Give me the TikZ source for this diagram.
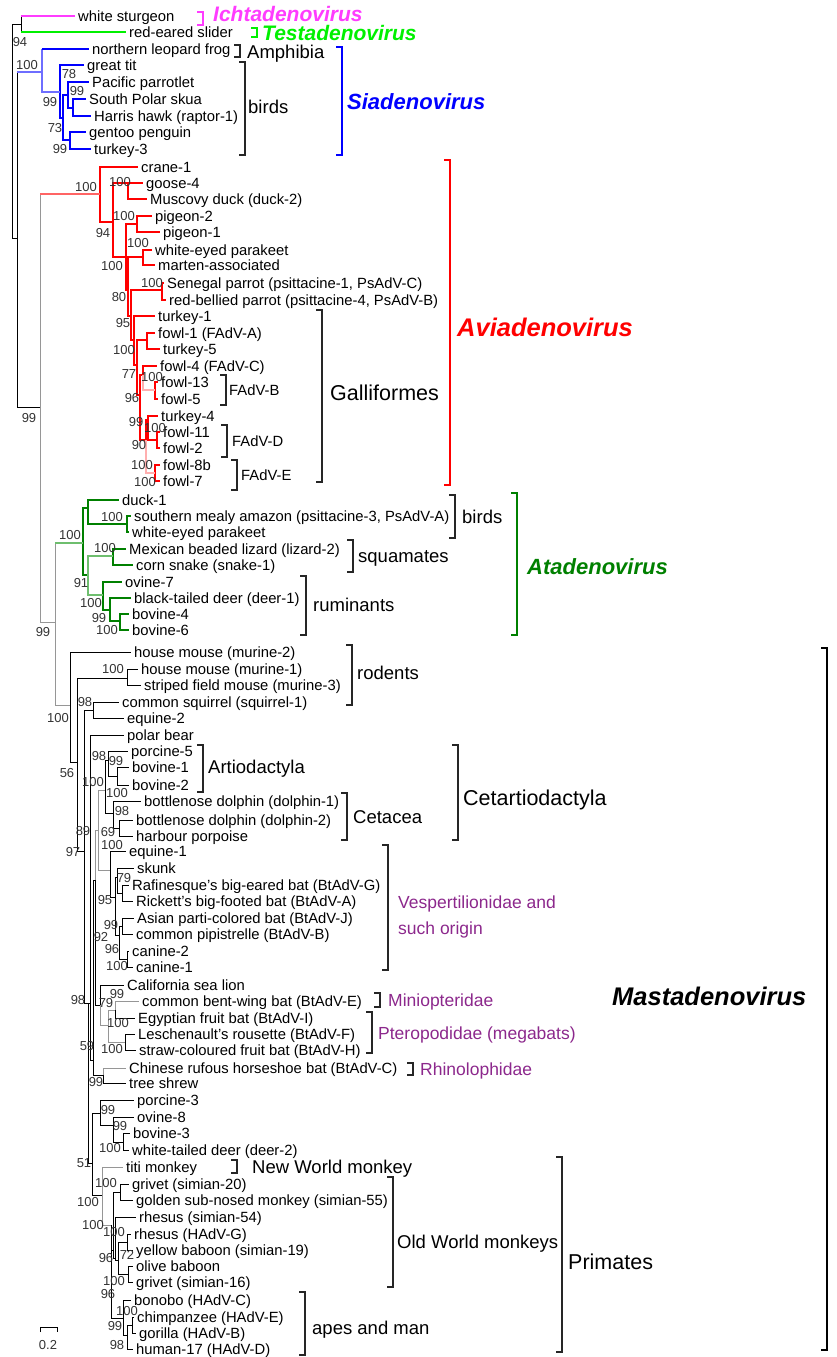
\documentclass[tikz,border=0pt]{standalone}
\usepackage{fontspec}
\setmainfont{Liberation Sans}
\definecolor{ichtacol}{RGB}{255,60,255}
\definecolor{testacol}{RGB}{0,240,0}
\definecolor{siacol}{RGB}{0,0,255}
\definecolor{sialight}{RGB}{110,110,255}
\definecolor{aviacol}{RGB}{255,0,0}
\definecolor{avialight}{RGB}{255,100,100}
\definecolor{aviapale}{RGB}{255,175,175}
\definecolor{atacol}{RGB}{0,128,0}
\definecolor{atalight}{RGB}{110,190,110}
\definecolor{famcol}{RGB}{140,40,140}
\definecolor{treegrey}{RGB}{150,150,150}
\newcommand{\leaffont}{\fontsize{14.8}{16}\selectfont}
\newcommand{\bsfont}{\fontsize{13}{14}\selectfont}
\newcommand{\grpfont}{\fontsize{18.5}{20}\selectfont}
\newcommand{\bigfont}{\fontsize{21.5}{24}\selectfont}
\newcommand{\genusfont}{\fontsize{22}{24}\selectfont\bfseries\itshape}
\newcommand{\famfont}{\fontsize{17.5}{26}\selectfont}
% bracket of a clade: x, top, bottom
\newcommand{\clade}[4][]{\draw[bracket,#1] (#2,#3) ++(-6,0) -- ++(6,0) -- (#2,#4) -- ++(-6,0);}
\tikzset{
  br/.style={line width=1pt, black},
  gbr/.style={line width=1pt, treegrey},
  ichta/.style={line width=1.4pt, ichtacol},
  testa/.style={line width=1.4pt, testacol},
  sia/.style={line width=2.5pt, siacol},
  siathin/.style={line width=1.6pt, siacol},
  sialt/.style={line width=1.4pt, sialight},
  avia/.style={line width=2.5pt, aviacol},
  avialt/.style={line width=1.4pt, avialight},
  aviapl/.style={line width=1.6pt, aviapale},
  ata/.style={line width=2.3pt, atacol},
  atalt/.style={line width=1.4pt, atalight},
  leaf/.style={anchor=west, inner xsep=3pt, inner ysep=0pt, text height=10.6pt, text depth=0pt, font=\leaffont},
  bs/.style={inner sep=0pt, font=\bsfont, text=black!80},
  grp/.style={anchor=west, inner sep=0pt, text height=13.3pt, text depth=0pt, font=\grpfont},
  big/.style={anchor=west, inner sep=0pt, text height=15.5pt, text depth=0pt, font=\bigfont},
  genus/.style={anchor=west, inner sep=0pt, text height=15.8pt, text depth=0pt, font=\genusfont},
  smallgenus/.style={genus, text height=15.1pt, font=\fontsize{21}{23}\selectfont\bfseries\itshape},
  biggenus/.style={genus, text height=18pt, font=\fontsize{25.5}{28}\selectfont\bfseries\itshape},
  fam/.style={anchor=west, inner sep=0pt, font=\famfont, text=famcol},
  famline/.style={fam, text height=12.6pt, text depth=0pt},
  bracket/.style={line width=1.4pt, black!85},
}
\begin{document}
\begin{tikzpicture}[x=1pt, y=-1pt]
\useasboundingbox (0,0) rectangle (837,1357);

% leaves
\foreach \nm/\x/\y/\txt in {
  ws/75/16/{white sturgeon}, res/126/32/{red-eared slider},
  frog/89/49/{northern leopard frog}, gtit/84/65/{great tit},
  parrotlet/89/82/{Pacific parrotlet}, skua/86/99/{South Polar skua},
  hawk/91/116/{Harris hawk (raptor-1)}, penguin/86/132/{gentoo penguin},
  turkeyiii/91/149/{turkey-3},
  crane/138/167/{crane-1}, goose/143/183/{goose-4},
  duckii/147/199/{Muscovy duck (duck-2)}, pigeonii/152/216/{pigeon-2},
  pigeoni/160/232/{pigeon-1}, wepa/152/250/{white-eyed parakeet},
  marten/155/265/{marten-associated},
  senegal/164/283/{Senegal parrot (psittacine-1, PsAdV-C)},
  redbellied/166/300/{red-bellied parrot (psittacine-4, PsAdV-B)},
  turkeyi/155/316/{turkey-1}, fowli/155/333/{fowl-1 (FAdV-A)},
  turkeyv/160/349/{turkey-5}, fowliv/157/366/{fowl-4 (FAdV-C)},
  fowlxiii/158/382/{fowl-13}, fowlv/158/399/{fowl-5},
  turkeyiv/158/416/{turkey-4}, fowlxi/160/432/{fowl-11},
  fowlii/160/448/{fowl-2}, fowlviiib/160/465/{fowl-8b},
  fowlvii/160/481/{fowl-7},
  ducki/119/500/{duck-1},
  amazon/131/516/{southern mealy amazon (psittacine-3, PsAdV-A)},
  wepb/129/532/{white-eyed parakeet},
  lizard/126/549/{Mexican beaded lizard (lizard-2)},
  snake/133/565/{corn snake (snake-1)}, ovinevii/122/582/{ovine-7},
  deeri/131/598/{black-tailed deer (deer-1)},
  bovineiv/129/614/{bovine-4}, bovinevi/129/630/{bovine-6},
  murineii/131/652/{house mouse (murine-2)},
  murinei/138/669/{house mouse (murine-1)},
  murineiii/141/685/{striped field mouse (murine-3)},
  squirrel/119/702/{common squirrel (squirrel-1)},
  equineii/124/718/{equine-2}, polarbear/124/735/{polar bear},
  porcinev/128/751/{porcine-5}, bovinei/129/767/{bovine-1},
  bovineii/129/785/{bovine-2},
  dolphini/141/801/{bottlenose dolphin (dolphin-1)},
  dolphinii/133/820/{bottlenose dolphin (dolphin-2)},
  porpoise/133/836/{harbour porpoise}, equinei/126/851/{equine-1},
  skunk/134/868/{skunk},
  rafinesque/129/885/{Rafinesque's big-eared bat (BtAdV-G)},
  rickett/133/901/{Rickett's big-footed bat (BtAdV-A)},
  asian/134/918/{Asian parti-colored bat (BtAdV-J)},
  pipistrelle/133/934/{common pipistrelle (BtAdV-B)},
  canineii/129/951/{canine-2}, caninei/133/967/{canine-1},
  sealion/124/985/{California sea lion},
  bentwing/139/1001/{common bent-wing bat (BtAdV-E)},
  egyptian/135/1018/{Egyptian fruit bat (BtAdV-I)},
  rousette/135/1034/{Leschenault's rousette (BtAdV-F)},
  straw/136/1050/{straw-coloured fruit bat (BtAdV-H)},
  horseshoe/126/1068/{Chinese rufous horseshoe bat (BtAdV-C)},
  treeshrew/126/1083/{tree shrew},
  porcineiii/134/1100/{porcine-3}, ovineviii/134/1117/{ovine-8},
  bovineiii/130/1133/{bovine-3},
  deerii/129/1150/{white-tailed deer (deer-2)},
  titi/123/1167/{titi monkey}, grivetxx/129/1184/{grivet (simian-20)},
  golden/133/1200/{golden sub-nosed monkey (simian-55)},
  rhesusliv/136/1217/{rhesus (simian-54)},
  rhesusg/131/1234/{rhesus (HAdV-G)},
  yellow/133/1250/{yellow baboon (simian-19)},
  olive/133/1266/{olive baboon}, grivetxvi/133/1282/{grivet (simian-16)},
  bonobo/131/1300/{bonobo (HAdV-C)}, chimp/134/1317/{chimpanzee (HAdV-E)},
  gorilla/136/1333/{gorilla (HAdV-B)}, human/133/1349/{human-17 (HAdV-D)}}
  \node[leaf] (\nm) at (\x,\y) {\txt};

% inner nodes
\foreach \nm/\x/\y in {
  root/12/131, it/21/24, xa/17/238, sia/42/72, sb1/60/92, sb2/63/118,
  sb3/68/95, sb5/73/108, sb4/70/140, xb/40/407,
  av0/100/194, av1/113/222, gs/128/183, av2/126/257, pg/137/224,
  av2b/128/290, pm/143/257, av3/131/316, sp/162/290, ga1/134/340,
  ga2/137/365, fa/147/340, ga3/140/395, gb/143/375, fb/155/390,
  ga4/146/440, gd/148/420, fd/157/440, fe/155/473,
  xc/55/622, at0/83/543, at1/88/508, sm/127/524, at2/88/575,
  lz/113/556, ru0/103/595, ru1/110/610, ru2/120/621,
  ma0/70/705, ma1/77/762, rm/127/678, ma2/84/851, sq/93/710,
  ma3/88/1003, mb/90/1003, mh/93/1060, mf/95/880, cet/98/830,
  ac/105/790, art/108/760, bv/117/776, cc/113/813, dp/119/828,
  vb/110/870, bt/115/897, ska/117/877, rr/122/893, pc/119/935,
  ap/122/926, cn/127/959, sl/100/1005, pt/108/1025, be/115/1010,
  rs/125/1042, ts/103/1075, mc/92/1163, ps/100/1113, ps1/113/1125,
  ps2/123/1142, pr/102/1195, ca/111/1225, ow0/113/1250, gg/120/1192,
  ow1/115/1258, ow2/118/1260, ry/127/1242, ob/128/1274,
  ap0/123/1318, cgh/127/1335, cg/132/1325}
  \coordinate (\nm) at (\x,\y);

% branches
\foreach \p/\c in {root/it, root/xa, xa/xb,
  ma0/murineii, ma0/ma1, ma1/rm, ma1/ma2, rm/murinei, rm/murineiii,
  ma2/sq, ma2/ma3, sq/squirrel, sq/equineii, ma3/mb, ma3/mc,
  mb/polarbear, mb/mh, mh/mf, mh/ts, mf/sl, ac/art, ac/cc,
  art/porcinev, art/bv, bv/bovinei, bv/bovineii, cc/dolphini, cc/dp,
  dp/dolphinii, dp/porpoise, vb/equinei, vb/bt, bt/ska, bt/pc,
  ska/skunk, ska/rr, rr/rafinesque, rr/rickett, pc/ap, pc/cn,
  ap/asian, ap/pipistrelle, cn/canineii, cn/caninei, sl/sealion,
  be/egyptian, rs/rousette, rs/straw, ts/treeshrew, mc/ps, mc/pr,
  ps/porcineiii, ps/ps1, ps1/ovineviii, ps1/ps2, ps2/bovineiii,
  ps2/deerii, ca/ow0, ca/ap0, ow0/gg, ow0/ow1, gg/grivetxx, gg/golden,
  ow1/rhesusliv, ow1/ow2, ow2/ry, ow2/ob, ry/rhesusg, ry/yellow,
  ob/olive, ob/grivetxvi, ap0/bonobo, ap0/cgh, cgh/cg, cgh/human,
  cg/chimp, cg/gorilla}
  \draw[br] (\p) |- (\c);
\foreach \p/\c in {xb/xc, xc/ma0, mf/cet, cet/ac, cet/vb, sl/pt, pt/be,
  pt/rs, be/bentwing, ts/horseshoe, pr/titi, pr/ca}
  \draw[gbr] (\p) |- (\c);
\foreach \p/\c in {sb1/gtit, sb1/sb2, sb2/sb3, sb2/sb4, sb3/parrotlet,
  sb3/sb5, sb5/skua, sb5/hawk, sb4/penguin, sb4/turkeyiii}
  \draw[sia] (\p) |- (\c);
\foreach \p/\c in {av0/crane, av0/av1, av1/gs, av1/av2, gs/goose,
  gs/duckii, av2/pg, av2/av2b, pg/pigeonii, pg/pigeoni, av2b/pm,
  av2b/av3, pm/wepa, pm/marten, av3/sp, av3/ga1, sp/senegal,
  sp/redbellied, ga1/turkeyi, ga1/ga2, ga2/fa, ga2/ga3, fa/fowli,
  fa/turkeyv, ga3/gb, ga3/ga4, gb/fowliv, fb/fowlxiii, fb/fowlv,
  ga4/gd, gd/turkeyiv, gd/fd, fd/fowlxi, fd/fowlii, fe/fowlviiib,
  fe/fowlvii}
  \draw[avia] (\p) |- (\c);
\foreach \p/\c in {gb/fb, ga4/fe}
  \draw[aviapl] (\p) |- (\c);
\foreach \p/\c in {at0/at1, at0/at2, at1/ducki, at1/sm, sm/amazon,
  sm/wepb, lz/lizard, lz/snake, ru0/ovinevii, ru0/ru1, ru1/deeri,
  ru1/ru2, ru2/bovineiv, ru2/bovinevi}
  \draw[ata] (\p) |- (\c);
\foreach \p/\c in {at2/lz, at2/ru0}
  \draw[atalt] (\p) |- (\c);
\draw[sialt] (sia) |- (sb1);

% stems whose bar and branch differ in colour
\draw[br] (it) -- (it |- ws);  \draw[ichta] (it |- ws) -- (ws);
\draw[br] (it) -- (it |- res); \draw[testa] (it |- res) -- (res);
\draw[br] (xa) -- (xa |- sia); \draw[sialt] (xa |- sia) -- (sia);
\draw[sialt] (sia) -- (sia |- frog); \draw[siathin] (sia |- frog) -- (frog);
\draw[gbr] (xb) -- (xb |- av0); \draw[avialt] (xb |- av0) -- (av0);
\draw[gbr] (xc) -- (xc |- at0); \draw[atalt] (xc |- at0) -- (at0);

% support values
\foreach \x/\y/\v [count=\i] in {
  20/42/94, 27/65/100, 69/74/78, 77/91/99, 50/102/99, 55/128/73,
  60/149/99, 29/418/99,
  86/187/100, 120/182/100, 103/233/94, 124/216/100, 138/243/100,
  112/266/100, 152/283/100, 119/297/80, 123/323/95, 124/350/100,
  129/374/77, 152/377/100, 132/398/96, 136/422/99, 155/428/100,
  139/445/90, 142/465/100, 145/482/100,
  43/632/99, 70/535/100, 112/517/100, 105/548/100, 81/583/91,
  91/603/100, 99/618/99, 107/630/100,
  58/718/100, 113/669/100, 85/702/98, 67/773/56, 99/756/98,
  116/761/99, 93/782/100, 117/793/100, 122/811/98, 83/831/89,
  108/832/69, 73/852/97, 112/845/100, 124/878/79, 105/900/95,
  111/925/99, 101/937/92, 112/949/96, 117/966/100, 78/1000/98,
  106/1003/79, 117/994/99, 118/1023/100, 87/1046/59, 112/1049/100,
  96/1082/99, 108/1110/99, 120/1126/99, 110/1148/100, 84/1163/51,
  106/1183/100, 88/1202/100, 93/1225/100, 114/1232/100, 127/1255/72,
  106/1258/96, 114/1281/100, 108/1294/96, 127/1311/100, 115/1326/99,
  117/1345/98}
  \node[bs] (bs\i) at (\x,\y) {\v};

% brackets and clade names
\clade[ichtacol, line width=2.4pt]{203}{12}{25}
\node[smallgenus, text=ichtacol] (ichta) at (213,14) {Ichtadenovirus};
\clade[testacol, line width=2.4pt]{257}{28}{37}
\node[smallgenus, text=testacol] (testa) at (262,33) {Testadenovirus};
\clade{240}{45}{57}
\node[grp] (amphibia) at (247,52) {Amphibia};
\clade{245}{62}{155}
\node[grp] (siabirds) at (248,107) {birds};
\clade[siacol, line width=2.6pt]{342}{47}{155}
\node[genus, text=siacol] (siadeno) at (347,102) {Siadenovirus};

\clade[aviacol, line width=2.6pt]{450}{160}{485}
\node[biggenus, text=aviacol] (aviadeno) at (457,327) {Aviadenovirus};
\clade{322}{310}{482}
\node[big] (galli) at (330,393) {Galliformes};
\clade{226}{375}{405}
\node[leaf, inner xsep=0pt] (fadvb) at (229,390) {FAdV-B};
\clade{227}{425}{457}
\node[leaf, inner xsep=0pt] (fadvd) at (232,441) {FAdV-D};
\clade{237}{460}{490}
\node[leaf, inner xsep=0pt] (fadve) at (241,475) {FAdV-E};

\clade[atacol, line width=2.6pt]{517}{493}{635}
\node[genus, text=atacol] (atadeno) at (527,567) {Atadenovirus};
\clade{455}{495}{538}
\node[grp] (atabirds) at (462,517) {birds};
\clade{353}{540}{572}
\node[grp] (squamates) at (358,556) {squamates};
\clade{306}{576}{635}
\node[grp] (ruminants) at (313,605) {ruminants};

\clade[black, line width=2.6pt]{827}{648}{1350}
\node[biggenus] (mastadeno) at (612,996) {Mastadenovirus};
\clade{352}{645}{705}
\node[grp] (rodents) at (357,673) {rodents};
\clade{203}{745}{792}
\node[grp] (artio) at (208,767) {Artiodactyla};
\clade{347}{793}{840}
\node[grp] (cetacea) at (353,817) {Cetacea};
\clade{458}{745}{840}
\node[big] (cetartio) at (463,798) {Cetartiodactyla};
\clade{388}{845}{970}
\node[fam, align=left] (vesper) at (398,917) {Vespertilionidae and\\such origin};
\clade{380}{993}{1007}
\node[famline] (minio) at (388,1000) {Miniopteridae};
\clade{372}{1012}{1053}
\node[famline] (ptero) at (378,1033) {Pteropodidae (megabats)};
\clade{413}{1063}{1075}
\node[famline] (rhino) at (420,1069) {Rhinolophidae};
\clade{237}{1160}{1173}
\node[grp] (nwm) at (252,1167) {New World monkey};
\clade{393}{1177}{1287}
\node[grp] (owm) at (397,1242) {Old World monkeys};
\clade{305}{1292}{1355}
\node[grp] (apes) at (312,1328) {apes and man};
\clade{562}{1157}{1352}
\node[big] (primates) at (568,1262) {Primates};

% scale
\draw[br] (40,1332) -- (40,1327) -- (57,1327) -- (57,1332);
\node[bs] (scalelbl) at (48,1345) {0.2};
\end{tikzpicture}
\end{document}
